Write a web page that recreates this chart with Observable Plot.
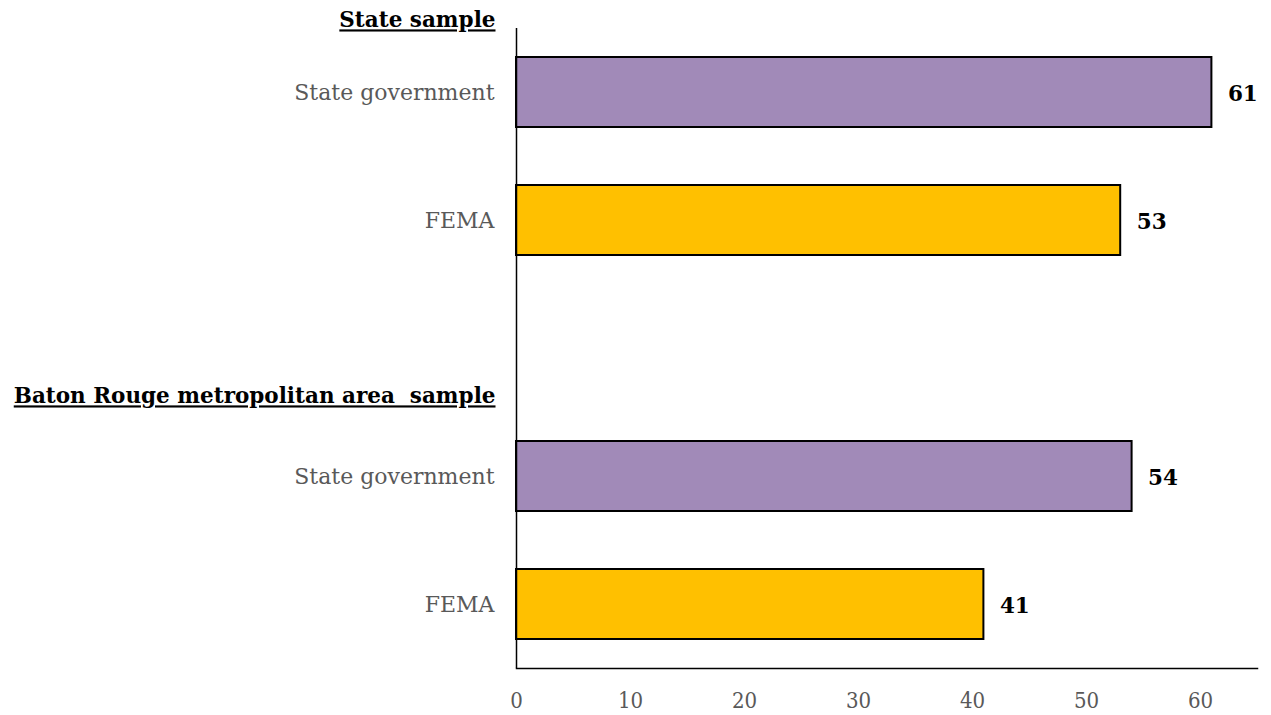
<!DOCTYPE html>
<html>
<head>
<meta charset="utf-8">
<script src="https://cdn.jsdelivr.net/npm/d3@7"></script>
<script src="https://cdn.jsdelivr.net/npm/@observablehq/plot@0.6"></script>
<style>
  html, body { margin: 0; padding: 0; background: #fff; }
  .hdr text { text-decoration: underline; }
  .xax text { font-stretch: condensed; }
</style>
</head>
<body>
<div id="chart"></div>
<script>
// Row keys (band order, top to bottom)
const rows = ["sg_state", "fema_state", "gap", "sg_br", "fema_br"];
const rowLabels = ["State government", "FEMA", "", "State government", "FEMA"];
const agencies = ["State government", "FEMA", "State government", "FEMA"];
const barRows = ["sg_state", "fema_state", "sg_br", "fema_br"];
const values = [61, 53, 54, 41];
const headerRows = ["sg_state", "gap"];
const headerLabels = ["State sample", "Baton Rouge metropolitan area  sample"];
const xTicks = [0, 10, 20, 30, 40, 50, 60];

const bars = barRows.map((r, i) => ({row: r, agency: agencies[i], value: values[i]}));
const headers = headerRows.map((r, i) => ({row: r, label: headerLabels[i]}));
const labelOf = new Map(rows.map((r, i) => [r, rowLabels[i]]));

const font = "'DejaVu Serif', serif";
const hdrStyle = {y: "row", text: "label", frameAnchor: "left", textAnchor: "end", dx: -21,
  fontWeight: "bold", fontSize: 21.5, fill: "#000", className: "hdr"};

const chart = Plot.plot({
  width: 1271,
  height: 715,
  marginLeft: 516,
  marginRight: 14,
  marginTop: 28,
  marginBottom: 47,
  style: {fontFamily: font, background: "#fff"},
  x: {domain: [0, 65], ticks: xTicks},
  y: {domain: rows, paddingInner: 0.45, paddingOuter: 0.225},
  color: {domain: ["State government", "FEMA"], range: ["#A18AB8", "#FFC000"]},
  marks: [
    Plot.barX(bars, {x: "value", y: "row", fill: "agency", stroke: "#000", strokeWidth: 2}),
    Plot.text(bars, {x: "value", y: "row", text: d => String(d.value), textAnchor: "start", dx: 16, dy: 2,
      fontWeight: "bold", fontSize: 21.5, fill: "#000"}),
    Plot.axisX({ticks: xTicks, tickSize: 0, tickPadding: 24, fontSize: 22, fill: "#595959", label: null, className: "xax"}),
    Plot.axisY({tickSize: 0, tickPadding: 22, fontSize: 22, fill: "#595959", label: null,
      tickFormat: d => labelOf.get(d)}),
    Plot.text([headers[0]], {...hdrStyle, dy: -72}),
    Plot.text([headers[1]], {...hdrStyle, dy: 48}),
    Plot.ruleX([0], {stroke: "#000", strokeWidth: 1.5}),
    Plot.frame({anchor: "bottom", stroke: "#000", strokeWidth: 1.5})
  ]
});

document.getElementById("chart").appendChild(chart);
</script>
</body>
</html>
